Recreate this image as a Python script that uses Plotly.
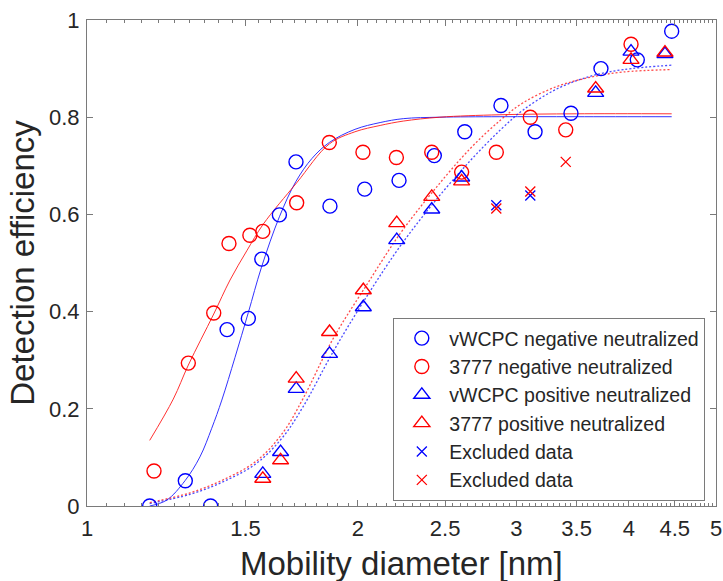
import plotly.graph_objects as go

# ---------------- data ----------------
neg_vwcpc_d = [1.174, 1.286, 1.372, 1.431, 1.511, 1.564, 1.636, 1.707, 1.862, 2.035,
               2.222, 2.432, 2.629, 2.884, 3.147, 3.450, 3.725, 4.088, 4.464]
neg_vwcpc_eff = [0.0, 0.052, 0.0, 0.363, 0.386, 0.508, 0.599, 0.708, 0.617, 0.652,
                 0.670, 0.721, 0.770, 0.824, 0.770, 0.808, 0.900, 0.918, 0.977]

neg_3777_d = [1.187, 1.296, 1.383, 1.438, 1.517, 1.568, 1.710, 1.859, 2.026, 2.207,
              2.416, 2.608, 2.850, 3.109, 3.404, 4.023]
neg_3777_eff = [0.072, 0.294, 0.397, 0.540, 0.557, 0.565, 0.624, 0.748, 0.728, 0.717,
                0.728, 0.687, 0.728, 0.800, 0.774, 0.950]

pos_d = [1.568, 1.641, 1.708, 1.860, 2.028, 2.209, 2.416, 2.608, 3.675, 4.023, 4.388]
pos_vwcpc_eff = [0.066, 0.111, 0.241, 0.313, 0.409, 0.547, 0.610, 0.676, 0.850, 0.935, 0.930]
pos_3777_eff = [0.056, 0.094, 0.262, 0.358, 0.444, 0.582, 0.636, 0.668, 0.859, 0.918, 0.933]

excl_vwcpc_d = [2.850, 3.109]
excl_vwcpc_eff = [0.619, 0.639]
excl_3777_d = [2.850, 3.109, 3.404]
excl_3777_eff = [0.612, 0.647, 0.708]

# fitted curves
fit_neg_vwcpc_d = [1.174, 1.226, 1.285, 1.335, 1.376, 1.412, 1.460, 1.511, 1.562, 1.636,
                   1.707, 1.778, 1.859, 1.985, 2.117, 2.246, 2.467, 2.87, 3.5, 4.464]
fit_neg_vwcpc = [0.0, 0.012, 0.052, 0.101, 0.160, 0.218, 0.305, 0.398, 0.49, 0.595,
                 0.668, 0.715, 0.748, 0.775, 0.789, 0.797, 0.800, 0.801, 0.801, 0.801]

fit_neg_3777_d = [1.174, 1.247, 1.296, 1.383, 1.442, 1.505, 1.570, 1.710, 1.859, 1.985,
                  2.117, 2.246, 2.467, 2.87, 3.5, 4.464]
fit_neg_3777 = [0.135, 0.22, 0.29, 0.395, 0.465, 0.525, 0.58, 0.665, 0.745, 0.770,
                0.783, 0.792, 0.800, 0.805, 0.807, 0.807]

fit_pos_d = [1.174, 1.3015, 1.4173, 1.5438, 1.6525, 1.7393, 1.878, 2.0455, 2.2274, 2.4256,
             2.6644, 2.8844, 3.0537, 3.3261, 3.6218, 3.9442, 4.464]
fit_pos_vwcpc = [0.005, 0.024, 0.050, 0.088, 0.143, 0.205, 0.318, 0.431, 0.534, 0.623,
                 0.71, 0.775, 0.815, 0.858, 0.884, 0.898, 0.907]
fit_pos_3777 = [0.007, 0.027, 0.054, 0.093, 0.152, 0.222, 0.345, 0.455, 0.56, 0.648,
                0.735, 0.795, 0.83, 0.863, 0.882, 0.893, 0.898]

x_ticks = [1, 1.5, 2, 2.5, 3, 3.5, 4, 4.5, 5]
x_tick_text = ["1", "1.5", "2", "2.5", "3", "3.5", "4", "4.5", "5"]
x_minor = [round(1 + 0.05 * i, 2) for i in range(81)]
y_ticks = [0, 0.2, 0.4, 0.6, 0.8, 1]
y_tick_text = ["0", "0.2", "0.4", "0.6", "0.8", "1"]
x_title = "Mobility diameter [nm]"
y_title = "Detection efficiency"

BLUE = "rgb(0,0,255)"
RED = "rgb(255,0,0)"
FONT = "Liberation Sans, Arial, Helvetica, sans-serif"
TXT = "#262626"
AX = "#7a7a7a"
XR = [0, 0.69897]

fig = go.Figure()

# invisible carrier trace so the minor-tick axis is drawn
fig.add_trace(go.Scatter(x=[x_ticks[0]], y=[y_ticks[0]], xaxis="x2", mode="markers",
                         marker=dict(opacity=0), showlegend=False, hoverinfo="skip"))

# fitted lines
fig.add_trace(go.Scatter(x=fit_neg_vwcpc_d, y=fit_neg_vwcpc, mode="lines",
                         line=dict(color=BLUE, width=1, shape="spline"), opacity=0.8,
                         showlegend=False, hoverinfo="skip"))
fig.add_trace(go.Scatter(x=fit_neg_3777_d, y=fit_neg_3777, mode="lines",
                         line=dict(color=RED, width=1, shape="spline"), opacity=0.8,
                         showlegend=False, hoverinfo="skip"))
fig.add_trace(go.Scatter(x=fit_pos_d, y=fit_pos_vwcpc, mode="lines",
                         line=dict(color=BLUE, width=1.3, dash="2px,2px", shape="spline"),
                         opacity=0.7, showlegend=False, hoverinfo="skip"))
fig.add_trace(go.Scatter(x=fit_pos_d, y=fit_pos_3777, mode="lines",
                         line=dict(color=RED, width=1.3, dash="2px,2px", shape="spline"),
                         opacity=0.7, showlegend=False, hoverinfo="skip"))

MS = 14
fig.add_trace(go.Scatter(x=neg_vwcpc_d, y=neg_vwcpc_eff, mode="markers",
                         name="vWCPC negative neutralized",
                         marker=dict(symbol="circle-open", size=MS, color=BLUE,
                                     line=dict(width=1.4))))
fig.add_trace(go.Scatter(x=neg_3777_d, y=neg_3777_eff, mode="markers",
                         name="3777 negative neutralized",
                         marker=dict(symbol="circle-open", size=MS, color=RED,
                                     line=dict(width=1.4))))
fig.add_trace(go.Scatter(x=pos_d, y=pos_vwcpc_eff, mode="markers",
                         name="vWCPC positive neutralized",
                         marker=dict(symbol="triangle-up-open", size=MS, color=BLUE,
                                     line=dict(width=1.4))))
fig.add_trace(go.Scatter(x=pos_d, y=pos_3777_eff, mode="markers",
                         name="3777 positive neutralized",
                         marker=dict(symbol="triangle-up-open", size=MS, color=RED,
                                     line=dict(width=1.4))))
fig.add_trace(go.Scatter(x=excl_vwcpc_d, y=excl_vwcpc_eff, mode="markers",
                         name="Excluded data",
                         marker=dict(symbol="x-thin-open", size=10, color=BLUE,
                                     line=dict(width=1.3, color=BLUE))))
fig.add_trace(go.Scatter(x=excl_3777_d, y=excl_3777_eff, mode="markers",
                         name="Excluded data",
                         marker=dict(symbol="x-thin-open", size=10, color=RED,
                                     line=dict(width=1.3, color=RED))))

fig.update_layout(
    width=723, height=581,
    margin=dict(l=87, r=7, t=20, b=75, autoexpand=False),
    paper_bgcolor="white", plot_bgcolor="white",
    font=dict(family=FONT, color=TXT, size=22),
    showlegend=True,
    legend=dict(x=0.487, y=0.387, xanchor="left", yanchor="top",
                font=dict(size=19.5, family=FONT, color=TXT),
                bgcolor="white", bordercolor=AX, borderwidth=1,
                itemwidth=45, tracegroupgap=0),
    xaxis=dict(type="log", range=XR, automargin=False,
               tickvals=x_ticks, ticktext=x_tick_text,
               ticks="inside", ticklen=6, tickwidth=1, tickcolor=AX,
               showline=True, linecolor=AX, linewidth=1, mirror="ticks",
               showgrid=False, zeroline=False,
               tickfont=dict(size=22, family=FONT, color=TXT),
               ticklabelstandoff=3),
    xaxis2=dict(type="log", range=XR, overlaying="x", side="bottom", automargin=False,
                tickvals=x_minor, ticks="inside", ticklen=3, tickwidth=1,
                tickcolor=AX, showticklabels=False, showline=False,
                mirror="ticks", showgrid=False, zeroline=False),
    yaxis=dict(range=[0, 1], automargin=False,
               tickvals=y_ticks, ticktext=y_tick_text,
               ticks="inside", ticklen=6, tickwidth=1, tickcolor=AX,
               showline=True, linecolor=AX, linewidth=1, mirror="ticks",
               showgrid=False, zeroline=False,
               tickfont=dict(size=22, family=FONT, color=TXT),
               ticklabelstandoff=2,
               title=dict(text=y_title, standoff=4,
                          font=dict(size=33, family=FONT, color=TXT))),
    annotations=[dict(text=x_title, x=0.5, y=0, xref="paper", yref="paper",
                      xanchor="center", yanchor="top", yshift=-37, showarrow=False,
                      font=dict(size=33, family=FONT, color=TXT))],
)

fig.write_html("out.html")
